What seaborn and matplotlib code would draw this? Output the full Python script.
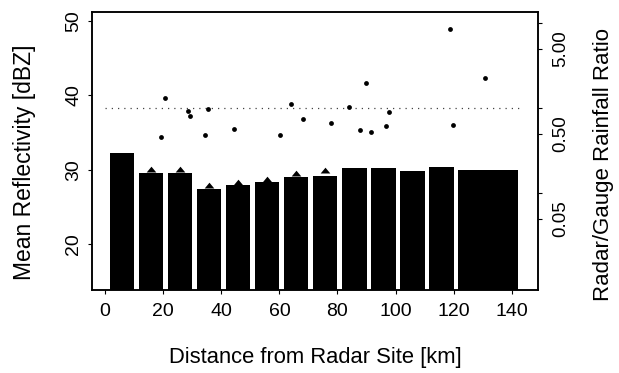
import numpy as np
import matplotlib
matplotlib.use("Agg")
import matplotlib.pyplot as plt
from matplotlib.markers import MarkerStyle
import seaborn as sns

# Range bins (km) and mean reflectivity per bin (dBZ)
bin_start_km = [0, 10, 20, 30, 40, 50, 60, 70, 80, 90, 100, 110, 120]
bin_end_km = [10, 20, 30, 40, 50, 60, 70, 80, 90, 100, 110, 120, 142]
mean_dbz = [32.2, 29.6, 29.5, 27.4, 27.9, 28.3, 29.0, 29.2, 30.2, 30.2, 29.8, 30.3, 30.0]

# Mean reflectivity over the gauge sites in each bin (NaN where no marker)
site_dbz = [np.nan, 29.7, 29.7, 27.5, 28.0, 28.4, 29.2, 29.6,
            np.nan, np.nan, np.nan, np.nan, np.nan]

# Radar/gauge rainfall ratio at the individual gauges
gauge_km = [19.2, 20.5, 28.4, 29.3, 34.3, 35.4, 44.3, 60.1, 64.1, 68.0,
            77.8, 83.9, 87.7, 89.9, 91.7, 96.7, 97.7, 118.8, 119.6, 130.6]
gauge_ratio = [0.46, 1.34, 0.94, 0.82, 0.48, 0.98, 0.57, 0.48, 1.12, 0.75,
               0.68, 1.03, 0.55, 1.97, 0.53, 0.62, 0.90, 8.5, 0.63, 2.26]

# Unity ratio reference line
unity_km = [0, 143]
unity_ratio = [1.0, 1.0]

# Axis ticks
km_ticks = [0, 20, 40, 60, 80, 100, 120, 140]
dbz_ticks = [20, 30, 40, 50]
ratio_ticks = [0.05, 0.5, 5.0]
ratio_tick_labels = ["0.05", "0.50", "5.00"]
ratio_minor_ticks = [0.1, 1.0, 10.0]

sns.set_theme(style="ticks")
plt.rcParams["font.family"] = ["Liberation Sans", "DejaVu Sans"]
plt.rcParams["axes.linewidth"] = 1.1
plt.rcParams["text.color"] = "black"
plt.rcParams["axes.labelcolor"] = "black"
plt.rcParams["xtick.color"] = "black"
plt.rcParams["ytick.color"] = "black"

fig = plt.figure(figsize=(6.19, 3.73), dpi=100)
ax = fig.add_axes([0.1486, 0.2225, 0.7205, 0.7453])

# bars fill each bin, leaving a small gap on the near side
gap = 1.6
lo = np.array(bin_start_km, dtype=float)
hi = np.array(bin_end_km, dtype=float)
centers = (lo + gap + hi) / 2
widths = hi - lo - gap

sns.barplot(x=centers, y=mean_dbz, native_scale=True, color="black",
            saturation=1, errorbar=None, ax=ax, zorder=2)
for patch, c, w in zip(ax.patches, centers, widths):
    patch.set_x(c - w / 2)
    patch.set_width(w)
    patch.set_edgecolor("none")

# flat triangle markers sitting on the bar tops
tri = MarkerStyle([(-1, 0), (1, 0), (0, 1.2), (-1, 0)])
sns.scatterplot(x=centers, y=site_dbz, marker=tri, s=70, color="black",
                linewidth=0, ax=ax, zorder=3)

ax.set_xlim(-4.5, 149)
ax.set_ylim(13.81, 51.21)
ax.set_xticks(km_ticks)
ax.set_xticklabels([str(t) for t in km_ticks])
ax.set_yticks(dbz_ticks)
ax.set_yticklabels([str(t) for t in dbz_ticks], rotation=90, va="center")
ax.tick_params(axis="both", length=3, width=0.8, direction="out",
               colors="black", labelcolor="black")
ax.tick_params(axis="x", labelsize=14, pad=6)
ax.tick_params(axis="y", labelsize=14, pad=4)
ax.set_xlabel("Distance from Radar Site [km]", fontsize=15.8, labelpad=20,
              color="black")
ax.set_ylabel("Mean Reflectivity [dBZ]", fontsize=16.5, color="black")
ax.yaxis.set_label_coords(-0.125, 0.46)

# right axis: radar/gauge rainfall ratio on a log scale
ax2 = ax.twinx()
ax2.set_position([0.1486, 0.2225, 0.7205, 0.7453])
ax2.set_yscale("log")
sns.lineplot(x=unity_km, y=unity_ratio, ax=ax2, color="#444444",
             linewidth=0.9, linestyle=(0, (1, 4)), zorder=3)
sns.scatterplot(x=gauge_km, y=gauge_ratio, ax=ax2, color="black", s=12,
                linewidth=0, zorder=4)
ax2.set_xlim(-4.5, 149)
ax2.set_ylim(0.0073, 13.6)
ax2.set_yticks(ratio_ticks)
ax2.set_yticklabels(ratio_tick_labels, rotation=90, va="center")
ax2.set_yticks(ratio_minor_ticks, minor=True)
ax2.yaxis.set_minor_formatter(matplotlib.ticker.NullFormatter())
ax2.tick_params(axis="y", which="both", labelsize=13.5, length=3, width=0.8,
                direction="out", colors="black", labelcolor="black", pad=7)
ax2.set_xlabel("")
ax2.set_ylabel("Radar/Gauge Rainfall Ratio", fontsize=16, color="black")
ax2.yaxis.set_label_coords(1.123, 0.45)

for a in (ax, ax2):
    for s in a.spines.values():
        s.set_visible(True)
        s.set_color("black")
        s.set_linewidth(1.1)

fig.savefig("out.png", dpi=100, facecolor="white")
